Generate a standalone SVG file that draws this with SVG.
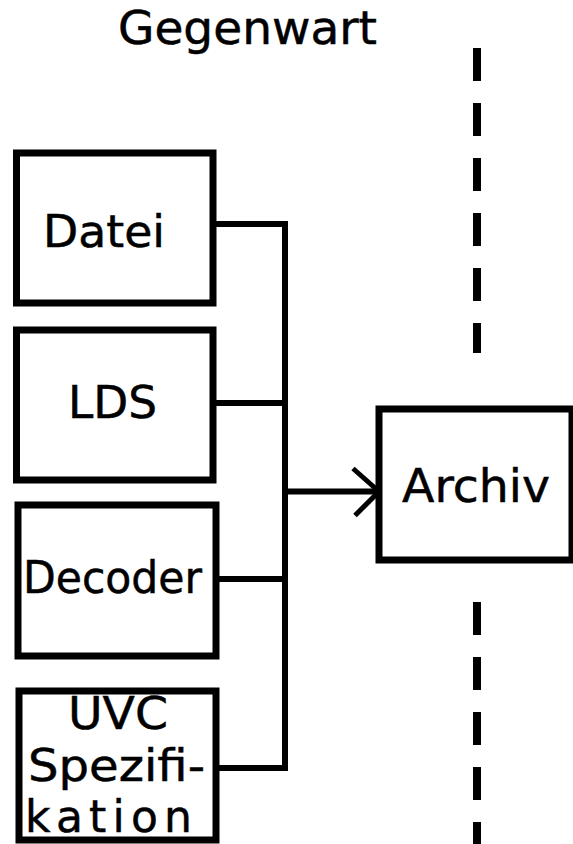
<svg xmlns="http://www.w3.org/2000/svg" width="573" height="844" viewBox="0 0 573 844">
<style>
  .box { fill: #ffffff; stroke: #000000; stroke-width: 7; }
  .lbl { font-family: "DejaVu Sans", "Liberation Sans", sans-serif; font-size: 46px; fill: #000000; stroke: #000000; stroke-width: 0.5; }
  .sm { font-size: 44px; }
  .wire { fill: none; stroke: #000000; stroke-width: 6; stroke-linejoin: miter; }
  .dash { fill: none; stroke: #000000; stroke-width: 8; stroke-dasharray: 33 22; }
</style>
<defs>
  <marker id="open" markerUnits="userSpaceOnUse" markerWidth="40" markerHeight="60" refX="30" refY="30" viewBox="0 0 40 60" orient="auto">
    <path d="M4,7 L30,30 L6,54" fill="none" stroke="#000" stroke-width="5"/>
  </marker>
</defs>
<rect width="573" height="844" fill="#ffffff"/>
<text class="lbl" x="118" y="44" textLength="259" lengthAdjust="spacingAndGlyphs">Gegenwart</text>
<g id="timeline">
  <line class="dash" x1="477" y1="48" x2="477" y2="353"/>
  <line class="dash" x1="477" y1="602" x2="477" y2="844"/>
</g>
<g id="connectors">
  <path class="wire" d="M213,224 H285 V771"/>
  <path class="wire" d="M213,403 H285"/>
  <path class="wire" d="M216,579 H285"/>
  <path class="wire" d="M216,768 H285"/>
  <path class="wire" d="M285,491.5 H379" marker-end="url(#open)"/>
</g>
<g id="datei">
  <rect class="box" x="16.5" y="153" width="196.5" height="150"/>
  <text class="lbl sm" x="43" y="247" textLength="122" lengthAdjust="spacingAndGlyphs">Datei</text>
</g>
<g id="lds">
  <rect class="box" x="16.5" y="330" width="196.5" height="150"/>
  <text class="lbl sm" x="68" y="418" textLength="89" lengthAdjust="spacingAndGlyphs">LDS</text>
</g>
<g id="decoder">
  <rect class="box" x="18" y="505" width="198" height="151"/>
  <text class="lbl sm" x="23" y="593" textLength="179" lengthAdjust="spacingAndGlyphs">Decoder</text>
</g>
<g id="uvc">
  <rect class="box" x="19" y="691" width="197" height="149"/>
  <text class="lbl sm" x="68" y="729" textLength="100" lengthAdjust="spacingAndGlyphs">UVC</text>
  <text class="lbl sm" x="28" y="781" textLength="177" lengthAdjust="spacingAndGlyphs">Spezifi-</text>
  <text class="lbl sm" x="25" y="832" textLength="167" lengthAdjust="spacing">kation</text>
</g>
<g id="archiv">
  <rect class="box" x="379" y="409" width="193" height="151"/>
  <text class="lbl" x="402" y="502" textLength="148" lengthAdjust="spacingAndGlyphs">Archiv</text>
</g>
</svg>
